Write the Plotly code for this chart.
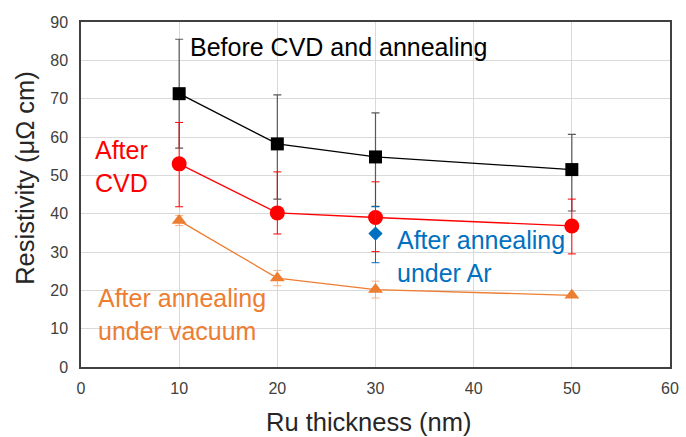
import plotly.graph_objects as go

thickness = [10, 20, 30, 50]
before = [71.3, 58.2, 54.8, 51.5]
before_err_plus = [14.2, 12.8, 11.5, 9.2]
before_err_minus = [14.2, 14.4, 12.9, 10.8]
after_cvd = [53.0, 40.2, 39.0, 36.8]
cvd_err_plus = [10.8, 10.7, 9.3, 7.0]
cvd_err_minus = [11.2, 5.5, 8.9, 7.3]
ar_x = [30]
ar_y = [34.8]
ar_err = [7.0]
ar_err_minus = [7.6]
vacuum = [38.2, 23.2, 20.2, 18.7]
vac_err = [1.3, 2.0, 2.2, 0.3]

x_ticks = [0, 10, 20, 30, 40, 50, 60]
y_ticks = [0, 10, 20, 30, 40, 50, 60, 70, 80, 90]

fig = go.Figure()
fig.add_trace(go.Scatter(x=thickness, y=before, mode="lines+markers",
    line=dict(color="black", width=1.3),
    marker=dict(symbol="square", size=13, color="black"),
    error_y=dict(type="data", array=before_err_plus, arrayminus=before_err_minus,
                 color="#595959", thickness=1.2, width=4)))
fig.add_trace(go.Scatter(x=thickness, y=after_cvd, mode="lines+markers",
    line=dict(color="#FF0000", width=1.3),
    marker=dict(symbol="circle", size=15, color="#FF0000"),
    error_y=dict(type="data", array=cvd_err_plus, arrayminus=cvd_err_minus,
                 color="#FF0000", thickness=1.0, width=4)))
fig.add_trace(go.Scatter(x=thickness, y=vacuum, mode="lines+markers",
    line=dict(color="#ED7D31", width=1.3),
    marker=dict(symbol="triangle-up", size=13, color="#ED7D31"),
    error_y=dict(type="data", array=vac_err, color="#F4B183", thickness=1.0, width=4)))
fig.add_trace(go.Scatter(x=ar_x, y=ar_y, mode="markers",
    marker=dict(symbol="diamond", size=11, color="#0070C0"),
    error_y=dict(type="data", array=ar_err, arrayminus=ar_err_minus,
                 color="#0070C0", thickness=1.0, width=4)))

font = "Liberation Sans, Arial, sans-serif"
ann = [
    dict(x=10.9, y=83.5, text="Before CVD and annealing", color="black"),
    dict(x=1.2, y=52.2, text="After<br>CVD", color="#FF0000"),
    dict(x=32.0, y=28.7, text="After annealing<br>under Ar", color="#0070C0"),
    dict(x=1.5, y=13.8, text="After annealing<br>under vacuum", color="#ED7D31"),
]
for a in ann:
    fig.add_annotation(x=a["x"], y=a["y"], text=a["text"], showarrow=False,
                       xanchor="left", yanchor="middle", align="left",
                       font=dict(family=font, size=25, color=a["color"]))

fig.add_annotation(xref="paper", yref="paper", x=0.488, y=-0.159,
                   text="Ru thickness (nm)", showarrow=False,
                   xanchor="center", yanchor="middle",
                   font=dict(family=font, size=25.5, color="#262626"))
fig.add_annotation(xref="paper", yref="paper", x=-0.0953, y=0.548,
                   text="Resistivity (μΩ cm)", showarrow=False, textangle=-90,
                   xanchor="center", yanchor="middle",
                   font=dict(family=font, size=25.5, color="#262626"))

fig.update_layout(
    width=686, height=437, showlegend=False,
    margin=dict(l=81, r=7, t=22, b=70),
    plot_bgcolor="white", paper_bgcolor="white",
    font=dict(family=font, color="#404040"),
    xaxis=dict(range=[0, 60], tickvals=x_ticks,
               showgrid=True, gridcolor="#D9D9D9", gridwidth=1,
               showline=True, linecolor="#404040", linewidth=1.5, mirror=True,
               zeroline=False, tickfont=dict(size=16, color="#404040"),
               ticklabelstandoff=6),
    yaxis=dict(range=[0, 90], tickvals=y_ticks,
               showgrid=True, gridcolor="#D9D9D9", gridwidth=1,
               showline=True, linecolor="#404040", linewidth=1.5, mirror=True,
               zeroline=False, tickfont=dict(size=16, color="#404040"),
               ticklabelstandoff=8),
)
fig.write_html("out.html")
